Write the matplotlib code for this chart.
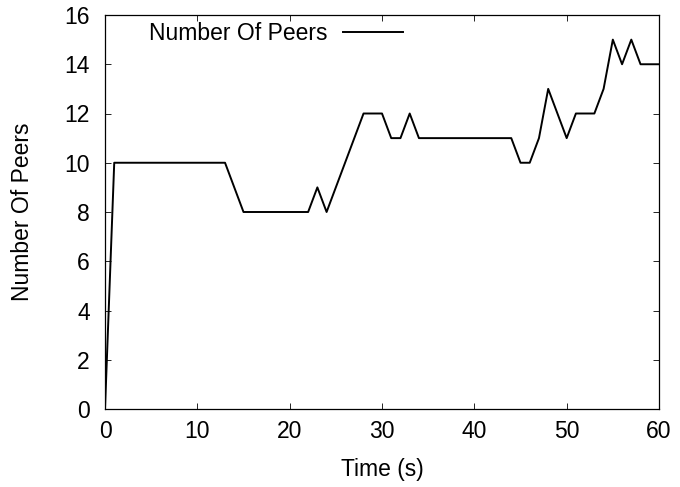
import matplotlib
matplotlib.use("Agg")
import matplotlib.pyplot as plt

time_s = [0, 1, 13, 15, 22, 23, 24, 28, 30, 31, 32, 33, 34, 44, 45, 46, 47, 48, 50, 51, 53, 54, 55, 56, 57, 58, 60]
peers = [0, 10, 10, 8, 8, 9, 8, 12, 12, 11, 11, 12, 11, 11, 10, 10, 11, 13, 11, 12, 12, 13, 15, 14, 15, 14, 14]
xticks = [0, 10, 20, 30, 40, 50, 60]
yticks = [0, 2, 4, 6, 8, 10, 12, 14, 16]
series_label = "Number Of Peers"

plt.rcParams['font.family'] = ['Liberation Sans', 'DejaVu Sans']
fs = 16.5

fig = plt.figure(figsize=(6.8, 4.87), dpi=100)
ax = fig.add_axes([105/680, 1 - 409/487, 554/680, 394/487])
ax.plot(time_s, peers, color='black', lw=1.4, label=series_label)
ax.set_xlim(0, 60)
ax.set_ylim(0, 16)
ax.set_xticks(xticks)
ax.set_yticks(yticks)
ax.tick_params(direction='in', top=True, right=True, length=4, width=0.6, labelsize=fs)
ax.tick_params(axis='y', pad=11)
ax.tick_params(axis='x', pad=8)
for s in ax.spines.values():
    s.set_linewidth(0.9)
ax.set_xlabel("Time (s)", fontsize=fs, labelpad=11)
ax.set_ylabel("Number Of Peers", fontsize=fs, labelpad=22)
ax.legend(loc='center right', bbox_to_anchor=((403-105)/554, (409-34)/394), frameon=False,
          markerfirst=False, fontsize=fs, handlelength=2.6, handletextpad=0.7,
          borderpad=0, borderaxespad=0)
fig.savefig("out.png", dpi=100)
